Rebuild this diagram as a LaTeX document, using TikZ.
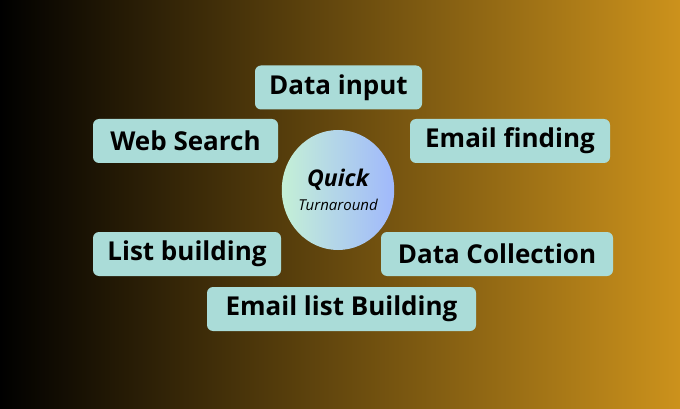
\documentclass[tikz,border=0pt]{standalone}
\usepackage{fontspec}
\setmainfont{Open Sans}
\usepackage{tikz}
\usetikzlibrary{shapes.geometric, positioning}
\definecolor{boxfill}{RGB}{170, 220, 216}
\definecolor{bgleft}{RGB}{0, 0, 0}
\definecolor{bgright}{RGB}{204, 146, 28}
\definecolor{ovalleft}{RGB}{196, 240, 214}
\definecolor{ovalright}{RGB}{160, 184, 252}
\tikzstyle{task} = [rectangle, rounded corners=6pt, fill=boxfill, minimum height=44pt,
                    inner sep=0pt, text centered, font=\fontsize{26}{30}\selectfont\bfseries]

\begin{document}
\begin{tikzpicture}[x=1pt, y=-1pt]
    % Background
    \shade[left color=bgleft, right color=bgright] (0,0) rectangle (680,409);
    \useasboundingbox (0,0) rectangle (680,409);
    % Centre
    \node[ellipse, left color=ovalleft, right color=ovalright, minimum width=108pt,
          minimum height=120pt, inner sep=0pt, align=center] (centre) at (338,190)
          {\fontsize{23}{26}\selectfont\bfseries\itshape Quick\\[8pt]
           \fontsize{15}{17}\selectfont\itshape Turnaround};
    % Tasks
    \node[task, minimum width=167pt] (datainput) at (338.5,87.5) {Data input};
    \node[task, minimum width=185pt] (websearch) at (185.5,141) {Web Search};
    \node[task, minimum width=200pt] (emailfind) at (510,141) {Email finding};
    \node[task, minimum width=188pt] (listbuild) at (187,254) {List building};
    \node[task, minimum width=232pt] (datacoll) at (497,254) {Data Collection};
    \node[task, minimum width=269pt] (emaillist) at (341.5,309) {Email list Building};
\end{tikzpicture}
\end{document}
